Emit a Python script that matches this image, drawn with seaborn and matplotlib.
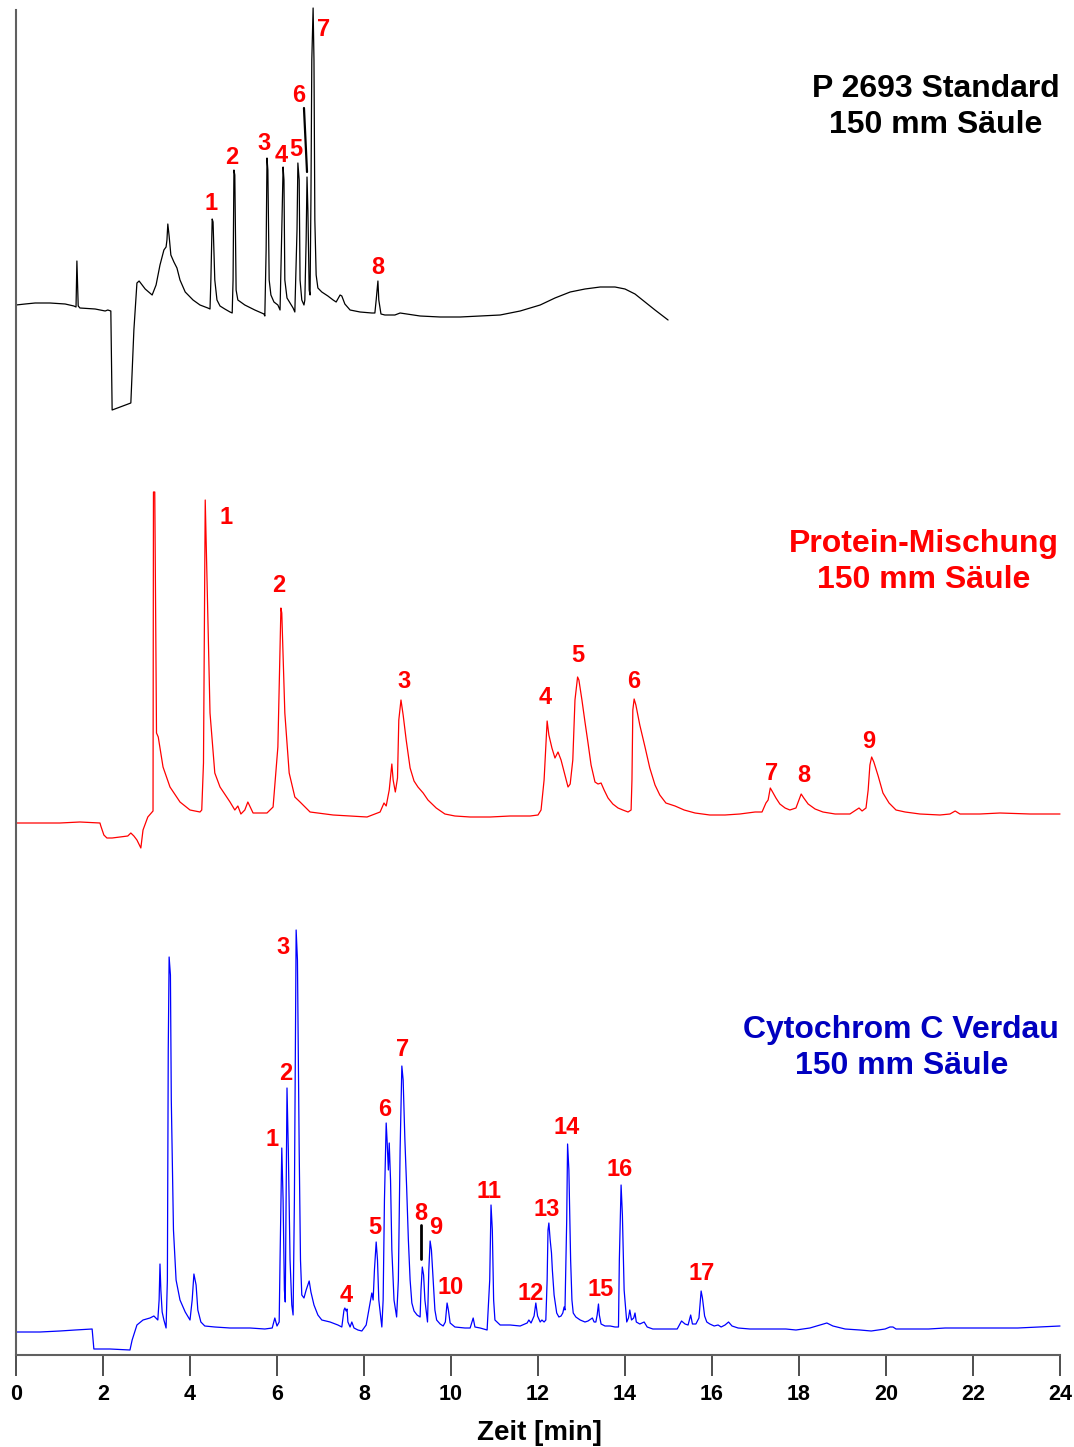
import numpy as np
import pandas as pd
import matplotlib
matplotlib.use("Agg")
import matplotlib.pyplot as plt
import seaborn as sns

# ---------------------------------------------------------------------------
# Chromatogram traces: retention time [min] and detector signal (arbitrary
# units, relative to each run's starting baseline)
# ---------------------------------------------------------------------------
std_time = [0, 0.21, 0.44, 0.78, 1.13, 1.33, 1.38, 1.40, 1.43, 1.47, 1.82, 2.05, 2.11, 2.18,
            2.21, 2.64, 2.71, 2.78, 2.83, 2.97, 3.13, 3.22, 3.31, 3.40, 3.45, 3.47, 3.49, 3.52,
            3.56, 3.63, 3.70, 3.77, 3.89, 4.07, 4.23, 4.41, 4.46, 4.48, 4.51, 4.53, 4.57, 4.62,
            4.69, 4.80, 4.92, 4.97, 4.99, 5.01, 5.03, 5.06, 5.10, 5.26, 5.49, 5.70, 5.72, 5.75,
            5.77, 5.79, 5.82, 5.86, 5.93, 6.02, 6.07, 6.11, 6.14, 6.16, 6.18, 6.23, 6.30, 6.37,
            6.41, 6.46, 6.48, 6.51, 6.53, 6.57, 6.62, 6.64, 6.67, 6.69, 6.71, 6.74, 6.76, 6.78,
            6.80, 6.83, 6.85, 6.87, 6.90, 6.94, 7.03, 7.17, 7.29, 7.36, 7.45, 7.49, 7.56, 7.68,
            7.91, 8.18, 8.25, 8.28, 8.32, 8.34, 8.39, 8.48, 8.71, 8.83, 9.29, 9.75, 10.21, 10.67,
            11.13, 11.59, 12.05, 12.39, 12.74, 13.08, 13.43, 13.77, 14.00, 14.23, 14.46, 14.69,
            14.99]
std_signal = [0, 1, 2, 2, 1, -1, -2, 44, -1, -3, -4, -6, -5, -6,
              -105, -98, -25, 22, 24, 16, 10, 20, 40, 55, 58, 65, 81, 69,
              50, 43, 37, 25, 13, 5, 0, -3, -4, 25, 86, 83, 25, 5,
              -1, -4, -7, -8, 25, 135, 130, 15, 5, 0, -5, -9, -11, 55,
              147, 135, 25, 10, 3, 0, -5, 75, 138, 125, 25, 7, 2, -3,
              -7, 75, 142, 125, 25, 5, 0, 5, 65, 128, 95, 15, 10, 105,
              245, 297, 245, 85, 30, 17, 13, 9, 5, 3, 10, 9, 1, -5,
              -7, -8, -8, 5, 24, 5, -9, -10, -10, -8, -11, -12, -12, -11,
              -10, -6, 0, 7, 13, 16, 18, 18, 16, 11, 3, -5,
              -15]

prot_time = [0, 1.01, 1.47, 1.93, 1.95, 2.02, 2.09, 2.21, 2.39, 2.57, 2.64, 2.71, 2.78, 2.87,
             2.92, 3.03, 3.13, 3.15, 3.16, 3.19, 3.23, 3.27, 3.38, 3.54, 3.77, 4.00, 4.23, 4.27,
             4.31, 4.35, 4.46, 4.57, 4.69, 4.92, 5.03, 5.10, 5.17, 5.26, 5.33, 5.45, 5.77, 5.91,
             6.02, 6.09, 6.11, 6.18, 6.28, 6.41, 6.53, 6.76, 7.29, 8.07, 8.37, 8.46, 8.51, 8.58,
             8.64, 8.67, 8.72, 8.77, 8.80, 8.85, 8.90, 8.97, 9.06, 9.15, 9.24, 9.36, 9.47, 9.66,
             9.86, 10.09, 10.44, 10.90, 11.36, 11.82, 12.00, 12.07, 12.14, 12.21, 12.25, 12.32,
             12.39, 12.46, 12.53, 12.62, 12.69, 12.74, 12.80, 12.85, 12.91, 12.94, 13.01, 13.08,
             13.15, 13.22, 13.31, 13.38, 13.45, 13.52, 13.61, 13.72, 13.84, 13.95, 14.07, 14.14,
             14.16, 14.18, 14.21, 14.25, 14.34, 14.46, 14.57, 14.69, 14.80, 14.94, 15.15, 15.36,
             15.61, 15.95, 16.30, 16.64, 16.99, 17.15, 17.24, 17.29, 17.34, 17.38, 17.47, 17.56,
             17.68, 17.79, 17.93, 18.00, 18.05, 18.11, 18.21, 18.37, 18.55, 18.83, 19.17, 19.31,
             19.38, 19.45, 19.54, 19.59, 19.63, 19.67, 19.72, 19.82, 19.93, 20.07, 20.23, 20.44,
             20.78, 21.24, 21.47, 21.59, 21.70, 22.16, 22.62, 23.31, 24.00]
prot_signal = [0, 0, 1, 0, -3, -12, -15, -15, -14, -13, -10, -13, -17, -25,
               -7, 6, 11, 12, 331, 331, 90, 86, 56, 36, 21, 13, 11, 13,
               60, 323, 110, 50, 36, 21, 13, 17, 9, 13, 21, 10, 10, 16,
               76, 215, 210, 110, 50, 26, 21, 11, 8, 6, 11, 20, 17, 33,
               59, 43, 31, 45, 103, 123, 108, 83, 55, 42, 36, 30, 23, 15,
               9, 7, 6, 6, 7, 7, 8, 13, 43, 102, 88, 75,
               65, 71, 63, 48, 36, 39, 63, 123, 146, 143, 123, 101,
               80, 58, 41, 39, 40, 33, 25, 19, 15, 13, 11, 13,
               43, 113, 124, 118, 98, 76, 55, 38, 28, 20, 17, 13,
               10, 8, 8, 9, 11, 11, 20, 23, 35, 32, 25, 19,
               15, 13, 15, 23, 29, 25, 19, 14, 11, 9, 9, 13,
               15, 12, 15, 33, 58, 66, 61, 47, 30, 20, 13, 11,
               9, 8, 9, 12, 9, 9, 10, 9, 9]

cyt_time = [0, 0.55, 1.01, 1.36, 1.75, 1.79, 2.16, 2.62, 2.67, 2.78, 2.92, 3.08, 3.17, 3.26,
            3.29, 3.31, 3.33, 3.36, 3.40, 3.45, 3.48, 3.50, 3.52, 3.55, 3.57, 3.62, 3.68, 3.77,
            3.89, 4.00, 4.05, 4.09, 4.14, 4.18, 4.25, 4.34, 4.57, 4.92, 5.38, 5.72, 5.89, 5.95,
            6.00, 6.05, 6.07, 6.11, 6.14, 6.17, 6.19, 6.21, 6.23, 6.26, 6.30, 6.34, 6.37, 6.40,
            6.44, 6.47, 6.51, 6.54, 6.57, 6.62, 6.67, 6.74, 6.78, 6.85, 6.94, 7.03, 7.22, 7.40,
            7.49, 7.54, 7.56, 7.59, 7.61, 7.63, 7.68, 7.72, 7.77, 7.86, 7.95, 8.05, 8.11, 8.18,
            8.21, 8.24, 8.28, 8.31, 8.34, 8.41, 8.44, 8.47, 8.51, 8.53, 8.56, 8.58, 8.61, 8.64,
            8.69, 8.75, 8.79, 8.83, 8.87, 8.90, 8.94, 8.98, 9.02, 9.06, 9.10, 9.15, 9.22, 9.29,
            9.31, 9.34, 9.37, 9.40, 9.46, 9.49, 9.52, 9.55, 9.59, 9.63, 9.67, 9.75, 9.82, 9.87,
            9.91, 9.94, 9.98, 10.09, 10.32, 10.44, 10.51, 10.55, 10.67, 10.83, 10.89, 10.92,
            10.95, 10.98, 11.01, 11.13, 11.36, 11.59, 11.75, 11.79, 11.84, 11.91, 11.95, 11.99,
            12.05, 12.09, 12.14, 12.18, 12.21, 12.23, 12.25, 12.28, 12.31, 12.33, 12.37, 12.43,
            12.48, 12.53, 12.57, 12.60, 12.62, 12.66, 12.68, 12.71, 12.75, 12.78, 12.81, 12.87,
            12.97, 13.08, 13.15, 13.25, 13.29, 13.33, 13.36, 13.39, 13.41, 13.45, 13.54, 13.66,
            13.77, 13.85, 13.87, 13.91, 13.94, 13.98, 14.04, 14.08, 14.11, 14.15, 14.20, 14.23,
            14.26, 14.34, 14.44, 14.51, 14.64, 14.92, 15.20, 15.30, 15.38, 15.45, 15.51, 15.55,
            15.63, 15.70, 15.75, 15.78, 15.83, 15.88, 15.95, 16.05, 16.14, 16.21, 16.30, 16.38,
            16.46, 16.60, 16.87, 17.33, 17.70, 17.93, 18.25, 18.48, 18.64, 18.78, 19.06, 19.40,
            19.66, 19.98, 20.09, 20.16, 20.23, 20.55, 20.98, 21.36, 21.79, 22.39, 23.03, 23.54,
            24.00]
cyt_signal = [0, 0, 1, 2, 3, -17, -17, -18, -8, 7, 12, 14, 16, 12,
              32, 68, 42, 20, 12, 4, 52, 282, 375, 357, 232, 102, 52, 32,
              20, 12, 32, 58, 47, 22, 10, 6, 5, 4, 4, 3, 4, 14,
              6, 10, 72, 184, 132, 42, 30, 132, 244, 182, 72, 27, 17, 132,
              402, 372, 182, 72, 37, 34, 42, 51, 40, 27, 17, 12, 10, 7,
              5, 22, 24, 21, 23, 10, 5, 10, 4, 2, 1, 7, 22, 39,
              32, 62, 90, 72, 32, 5, 32, 132, 209, 192, 162, 189, 152, 82,
              32, 15, 52, 182, 266, 252, 192, 145, 92, 52, 29, 21, 17, 15,
              42, 65, 57, 32, 10, 62, 91, 82, 52, 22, 12, 8, 6, 10,
              29, 22, 9, 5, 4, 4, 14, 5, 4, 2, 52, 127,
              102, 32, 12, 7, 7, 6, 9, 12, 9, 16, 29, 16,
              10, 12, 10, 12, 52, 102, 109, 92, 79, 62, 37, 19,
              15, 16, 19, 25, 22, 112, 188, 162, 72, 32, 19, 15,
              12, 10, 11, 14, 10, 10, 17, 28, 17, 8, 6, 6,
              5, 5, 72, 147, 117, 42, 10, 14, 22, 12, 14, 19,
              10, 8, 10, 5, 3, 3, 3, 11, 8, 7, 17, 8,
              8, 14, 41, 34, 16, 10, 8, 6, 7, 5, 7, 10,
              6, 4, 3, 3, 3, 2, 4, 7, 9, 6, 3, 2,
              1, 3, 5, 5, 3, 3, 3, 4, 4, 4, 4, 5,
              6]

run_names = ["P 2693 Standard", "Protein-Mischung", "Cytochrom C Verdau"]
run_titles = ["P 2693 Standard\n150 mm Säule",
              "Protein-Mischung\n150 mm Säule",
              "Cytochrom C Verdau\n150 mm Säule"]

# Peak numbering for each run
std_peak_labels = ["1", "2", "3", "4", "5", "6", "7", "8"]
prot_peak_labels = ["1", "2", "3", "4", "5", "6", "7", "8", "9"]
cyt_peak_labels = [str(i) for i in range(1, 18)]

x_ticks = list(range(0, 25, 2))

# ---------------------------------------------------------------------------
# Layout: vertical stacking of the runs and label placement
# ---------------------------------------------------------------------------
run_offsets = [1050, 532, 23]
run_colors = ["#000000", "#ff0000", "#0000ff"]
title_colors = ["#000000", "#ff0000", "#0000c0"]
# anchor = right edge / baseline of the second title line
title_anchor = [(23.98, 1222), (23.98, 767), (23.98, 281)]

std_label_pos = [(4.48, 1153), (4.97, 1199), (5.71, 1213), (6.09, 1202), (6.44, 1207),
                 (6.51, 1262), (7.06, 1327), (8.31, 1089)]
prot_label_pos = [(4.83, 839), (6.05, 771), (8.92, 675), (12.16, 659), (12.91, 702),
                  (14.20, 675), (17.37, 584), (18.11, 581), (19.61, 615)]
cyt_label_pos = [(5.88, 218), (6.19, 283), (6.13, 410), (7.59, 62), (8.25, 129),
                 (8.48, 247), (8.89, 307), (9.31, 144), (9.65, 130), (9.98, 70),
                 (10.88, 166), (11.83, 63), (12.20, 148), (12.66, 229), (13.43, 67),
                 (13.87, 187), (15.75, 84)]

# ---------------------------------------------------------------------------
sns.set_theme(style="white")
plt.rcParams["font.family"] = ["Liberation Sans", "DejaVu Sans"]

frames = []
for name, t, s, off in zip(run_names,
                           [std_time, prot_time, cyt_time],
                           [std_signal, prot_signal, cyt_signal],
                           run_offsets):
    frames.append(pd.DataFrame({"run": name,
                                "Zeit": np.asarray(t, dtype=float),
                                "Signal": np.asarray(s, dtype=float) + off}))
data = pd.concat(frames, ignore_index=True)

fig = plt.figure(figsize=(10.74, 14.47), dpi=100)
ax = fig.add_axes([16 / 1074, 92 / 1447, 1044 / 1074, 1345 / 1447])

sns.lineplot(data=data, x="Zeit", y="Signal", hue="run",
             palette=dict(zip(run_names, run_colors)),
             estimator=None, sort=False, legend=False,
             linewidth=0.9, ax=ax)
for line in ax.get_lines():
    line.set_clip_on(False)

ax.set_xlim(0, 24)
ax.set_ylim(0, 1345)

# axes styling
for side in ["top", "right"]:
    ax.spines[side].set_visible(False)
for side in ["left", "bottom"]:
    ax.spines[side].set_color("#606060")
    ax.spines[side].set_linewidth(1.5)
ax.set_yticks([])
ax.set_xticks(x_ticks)
ax.set_xticklabels([str(v) for v in x_ticks], fontsize=15.5, fontweight="bold")
ax.tick_params(axis="x", direction="out", length=15, width=1.3, color="#404040",
               pad=6, bottom=True, labelcolor="black")
ax.set_ylabel("")
ax.set_xlabel("Zeit [min]", fontsize=20, fontweight="bold", color="black")
ax.xaxis.label.set_va("center")
ax.xaxis.set_label_coords(0.501, -78 / 1345)

# run titles (two centred lines, block right-aligned)
for (tx, ty), title, col in zip(title_anchor, run_titles, title_colors):
    ax.text(tx, ty, title, ha="right", va="baseline", multialignment="center",
            fontsize=23, fontweight="bold", color=col, linespacing=1.25)

# peak numbers
for labels, positions in [(std_peak_labels, std_label_pos),
                          (prot_peak_labels, prot_label_pos),
                          (cyt_peak_labels, cyt_label_pos)]:
    for lab, (px, py) in zip(labels, positions):
        ax.text(px, py - 8.5, lab, ha="center", va="baseline",
                fontsize=17, fontweight="bold", color="#ff0000")

# leader lines for crowded peaks
ax.plot([6.62, 6.69], [1247, 1183], color="black", linewidth=1.6, clip_on=False)
ax.plot([9.30, 9.30], [130, 96], color="black", linewidth=2.0, clip_on=False)

fig.savefig("out.png", dpi=100)
